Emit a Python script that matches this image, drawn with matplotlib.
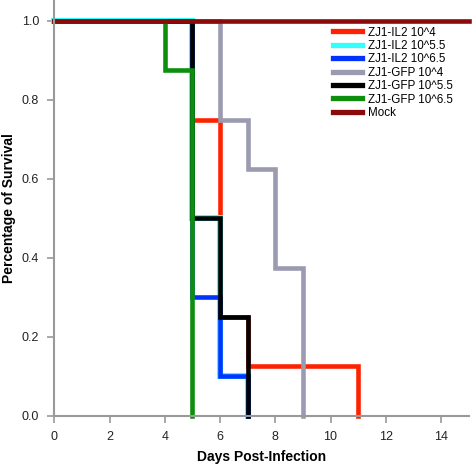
import matplotlib
matplotlib.use('Agg')
from matplotlib import pyplot as plt

plt.rcParams['font.family'] = ['Liberation Sans', 'DejaVu Sans']

labels = ['ZJ1-IL2 10^4', 'ZJ1-IL2 10^5.5', 'ZJ1-IL2 10^6.5', 'ZJ1-GFP 10^4',
          'ZJ1-GFP 10^5.5', 'ZJ1-GFP 10^6.5', 'Mock']
colors = ['#ff2200', '#33ffff', '#0033ff', '#9a9ab0', '#000000', '#0d8f0d', '#8b0a0a']
widths = [3.3, 4.4, 3.3, 3.3, 3.3, 3.3, 3.3]

# survival curves: (days, fraction surviving), step after each day
il2_4_days = [0, 5, 6, 7, 11]
il2_4_surv = [1.0, 0.75, 0.25, 0.125, 0.0]
il2_55_days = [0, 5, 6, 7]
il2_55_surv = [1.0, 0.5, 0.1, 0.0]
il2_65_days = [0, 5, 6, 7]
il2_65_surv = [1.0, 0.3, 0.1, 0.0]
gfp_4_days = [0, 6, 7, 8, 9]
gfp_4_surv = [1.0, 0.75, 0.625, 0.375, 0.0]
gfp_55_days = [0, 5, 6, 7]
gfp_55_surv = [1.0, 0.5, 0.25, 0.0]
gfp_65_days = [0, 4, 5]
gfp_65_surv = [1.0, 0.875, 0.0]
mock_days = [0, 15]
mock_surv = [1.0, 1.0]

curves = [(il2_4_days, il2_4_surv), (il2_55_days, il2_55_surv),
          (il2_65_days, il2_65_surv), (gfp_4_days, gfp_4_surv),
          (gfp_55_days, gfp_55_surv), (gfp_65_days, gfp_65_surv),
          (mock_days, mock_surv)]

fig = plt.figure(figsize=(4.72, 4.65), dpi=100)
ax = fig.add_axes([0.115, 0.106, 0.878, 0.894])

for (d, s), lab, c, w in zip(curves, labels, colors, widths):
    ax.step(d, s, where='post', color=c, lw=w, label=lab,
            solid_joinstyle='miter', clip_on=False)

ax.set_xlim(0, 15)
ax.set_ylim(0, 1.053)
ax.set_xticks(range(0, 15, 2))
ax.set_yticks([0, 0.2, 0.4, 0.6, 0.8, 1.0])
ax.set_yticklabels(['0.0', '0.2', '0.4', '0.6', '0.8', '1.0'])

for sp in ['top', 'right']:
    ax.spines[sp].set_visible(False)
for sp in ['left', 'bottom']:
    ax.spines[sp].set_color('#999999')
    ax.spines[sp].set_linewidth(1.5)
ax.tick_params(direction='out', length=5, width=1.2, color='#999999',
               labelsize=9, labelcolor='#222222', pad=6)

ax.set_xlabel('Days Post-Infection', fontsize=10, fontweight='bold', labelpad=5)
ax.set_ylabel('Percentage of Survival', fontsize=10, fontweight='bold', labelpad=4)

leg = ax.legend(loc='upper left', bbox_to_anchor=(0.706, 0.943),
                bbox_transform=fig.transFigure, frameon=False,
                fontsize=8.4, handlelength=2.5, handletextpad=0.45,
                labelspacing=0.12, borderpad=0, borderaxespad=0)
for lh in leg.get_lines():
    lh.set_linewidth(3.8)

fig.savefig('out.png', dpi=100)
